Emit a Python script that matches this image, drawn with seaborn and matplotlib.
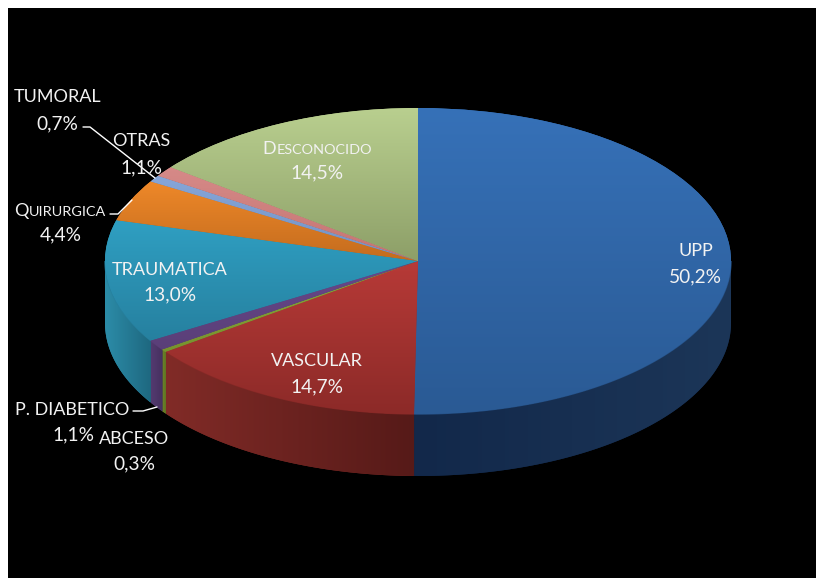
import numpy as np
import seaborn as sns
import matplotlib.pyplot as plt
from matplotlib.patches import Polygon

# Pie values (%), clockwise from the top
categories = ["UPP", "VASCULAR", "ABCESO", "P. DIABETICO", "TRAUMATICA",
              "QUIRURGICA", "TUMORAL", "OTRAS", "DESCONOCIDO"]
values = [50.2, 14.7, 0.3, 1.1, 13.0, 4.4, 0.7, 1.1, 14.5]
pct_labels = ["50,2%", "14,7%", "0,3%", "1,1%", "13,0%", "4,4%", "0,7%", "1,1%", "14,5%"]

# Gradient colours of the top face (upper, lower) and the rim (left, right)
top_colors = [("#3671b8", "#2a5a94"), ("#b73a37", "#8c2a28"), ("#8aa83a", "#77922e"),
              ("#68488a", "#5a3f78"), ("#2f9fc2", "#26809f"), ("#ee8829", "#c46c1e"),
              ("#86a6d8", "#7392c4"), ("#d68a88", "#c47472"), ("#b9cf8f", "#8d9f68")]
side_colors = [("#12284a", "#1c3658"), ("#812b27", "#561a18"), ("#6f8528", "#5f7322"),
               ("#533a70", "#46305f"), ("#2c8ca8", "#1e6880"), ("#000000", "#000000"),
               ("#000000", "#000000"), ("#000000", "#000000"), ("#000000", "#000000")]

# Where the ellipse sits in the picture
cx, cy, rx, ry, depth = 418, 261, 313, 153, 62
W, H = 816, 578


def px(x, y):
    return (x - cx) / rx, (cy - y) / ry


sns.set_theme(style="white")
plt.rcParams["font.family"] = ["Lato", "DejaVu Sans"]

fig = plt.figure(figsize=(W / 100, H / 100), dpi=100, facecolor="white")
ax = fig.add_axes([8 / W, 0, (W - 8) / W, (H - 8) / H])

wedges, _ = ax.pie(values, startangle=90, counterclock=False, radius=1,
                   colors=[c[0] for c in top_colors])
ax.set_aspect("auto")
ax.set_frame_on(True)
ax.set_facecolor("black")
for s in ax.spines.values():
    s.set_visible(False)
xlim = (px(8, 0)[0], px(W, 0)[0])
ylim = (px(0, H)[1], px(0, 8)[1])

# Top faces: vertical gradient clipped on each wedge
ramp = np.linspace(0, 1, 256)
for w, (c1, c2) in zip(wedges, top_colors):
    box = w.get_path().transformed(w.get_patch_transform()).get_extents()
    cmap = sns.blend_palette([c1, c2], as_cmap=True)
    im = ax.imshow(ramp[:, None], cmap=cmap, aspect="auto", zorder=3,
                   extent=(box.x0, box.x1, box.y0, box.y1), origin="upper")
    im.set_clip_path(w)
    w.set_edgecolor("none")
    w.set_zorder(2)

# Rim: the part of each slice facing the viewer
drop = depth / ry
edges = np.concatenate([[0], np.cumsum(values)]) / sum(values) * 360
for i, (c1, c2) in enumerate(side_colors):
    a0, a1 = max(edges[i], 90), min(edges[i + 1], 270)
    if a0 >= a1:
        continue
    t = np.radians(np.linspace(a0, a1, 120))
    xs, ys = np.sin(t), np.cos(t)
    outline = np.vstack([np.c_[xs, ys], np.c_[xs, ys - drop][::-1]])
    poly = Polygon(outline, closed=True, facecolor=c1, edgecolor="none", zorder=1)
    ax.add_patch(poly)
    cmap = sns.blend_palette([c1, c2], as_cmap=True)
    im = ax.imshow(ramp[None, :], cmap=cmap, aspect="auto", zorder=1.5,
                   extent=(xs.min(), xs.max(), (ys - drop).min(), ys.max()))
    im.set_clip_path(poly)
    # thin light edge where the top meets the rim
    ax.plot(xs, ys, color=top_colors[i][1], lw=1.0, alpha=0.8, zorder=2.5,
            solid_capstyle="butt")

ax.set_xlim(xlim)
ax.set_ylim(ylim)
ax.set_xticks([])
ax.set_yticks([])

# Leader lines
leaders = [([83, 90, 155], [127, 127, 178]),
           ([110, 118, 132], [214, 214, 200]),
           ([133, 143, 157], [411, 411, 407])]
for lx, ly in leaders:
    pts = [px(a, b) for a, b in zip(lx, ly)]
    ax.plot(*zip(*pts), color="white", lw=1.0, zorder=4)

# Labels: name centre and value centre
name_pos = [(696, 251), (317, 361), (134, 439), (72, 410), (170, 270),
            (60, 210), (58, 97), (141, 141), (317, 148)]
pct_pos = [(695, 277), (317, 387), (134, 464), (73, 435), (170, 295),
           (61, 235), (57, 124), (141, 168), (317, 173)]
small_caps = {"QUIRURGICA", "DESCONOCIDO"}
fs = 13
txt = "#f2f2f2"
renderer = fig.canvas.get_renderer()

for name, pct, np_, pp in zip(categories, pct_labels, name_pos, pct_pos):
    ax.text(*px(*pp), pct, color=txt, fontsize=13.8, ha="center", va="center", zorder=5)
    if name in small_caps:
        # big first letter followed by smaller capitals
        first = ax.text(0, 0, name[0], color=txt, fontsize=fs, va="baseline", zorder=5)
        rest = ax.text(0, 0, name[1:], color=txt, fontsize=fs * 0.8, va="baseline", zorder=5)
        w1 = first.get_window_extent(renderer).width + 0.5
        w2 = rest.get_window_extent(renderer).width
        x0 = np_[0] - (w1 + w2) / 2
        base = np_[1] + 6
        first.set_position(px(x0, base))
        rest.set_position(px(x0 + w1, base))
    else:
        ax.text(*px(*np_), name, color=txt, fontsize=fs, ha="center", va="center", zorder=5)

fig.savefig("out.png", dpi=100, facecolor="white")
